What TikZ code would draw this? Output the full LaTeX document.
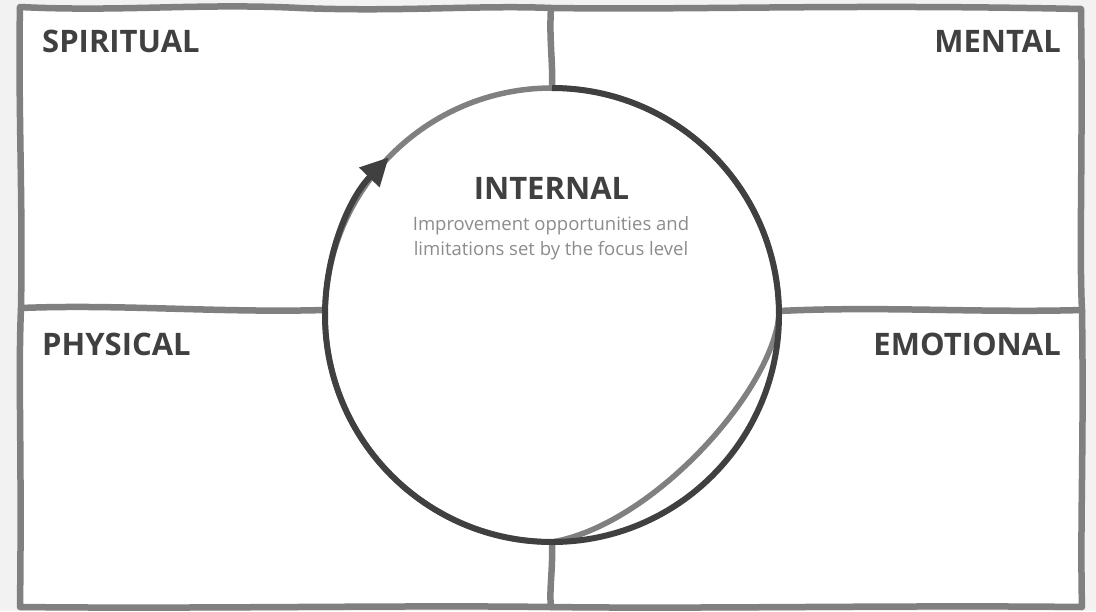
\documentclass[tikz,border=0pt]{standalone}
\usepackage{fontspec}
\setmainfont{Open Sans}
\usetikzlibrary{arrows.meta}
\definecolor{bgc}{HTML}{F2F2F2}
\definecolor{framec}{HTML}{808080}
\definecolor{darkc}{HTML}{404040}
\definecolor{subc}{HTML}{8C8C8C}
\tikzset{
  frameline/.style={draw=framec, line width=6.5pt, line cap=round, line join=round},
  lightarc/.style={draw=framec, line width=5.5pt},
  darkarc/.style={draw=darkc, line width=6pt},
  quadlabel/.style={text=darkc, font=\fontsize{31}{37}\selectfont\bfseries, inner sep=0pt},
  subtext/.style={text=subc, font=\fontsize{18.5}{25}\selectfont, align=center, inner sep=0pt}
}
\begin{document}
\begin{tikzpicture}[x=1pt,y=-1pt]
\fill[bgc] (0,0) rectangle (1096,611);
\useasboundingbox (0,0) rectangle (1096,611);
% outer frame
\path[frameline, fill=white]
  (20,7) .. controls (120,12) and (200,3) .. (300,8)
  .. controls (400,12) and (480,5) .. (551,8)
  .. controls (700,10) and (850,4) .. (1081,9)
  .. controls (1083,150) and (1079,250) .. (1082,310)
  .. controls (1084,450) and (1080,520) .. (1082,607)
  .. controls (900,605) and (700,609) .. (551,607)
  .. controls (400,605) and (200,609) .. (20,607)
  .. controls (22,450) and (18,380) .. (21,308)
  .. controls (23,200) and (18,100) .. (20,7) -- cycle;
\coordinate (c) at (552,315);
\coordinate (ctop) at (552,88);
\coordinate (cbot) at (552,542);
\coordinate (cleft) at (325,310);
\coordinate (cright) at (779,311);
% inner dividers
\draw[frameline] (551,8) .. controls (549,40) and (553,60) .. (ctop);
\draw[frameline] (cbot) .. controls (553,570) and (549,590) .. (551,607);
\draw[frameline] (21,308) .. controls (120,304) and (220,313) .. (cleft);
\draw[frameline] (cright) .. controls (880,306) and (980,313) .. (1082,310);
% light circle
\fill[white] (c) circle[radius=225];
\draw[lightarc] (c) ++(90:227) arc[start angle=90, end angle=360, radius=227]
  .. controls (772,392) and (652,525) .. (cbot);
% dark arc with arrow
\draw[darkarc, -{Triangle[length=28pt,width=27pt]}] (ctop) arc[start angle=-90, end angle=224, radius=227];
% labels
\node[quadlabel, anchor=base west] (spiritual) at (42,52) {SPIRITUAL};
\node[quadlabel, anchor=base east] (mental) at (1061,52) {MENTAL};
\node[quadlabel, anchor=base west] (physical) at (42,355) {PHYSICAL};
\node[quadlabel, anchor=base east] (emotional) at (1061,355) {EMOTIONAL};
\node[quadlabel, anchor=base] (internal) at (551.5,199) {INTERNAL};
\node[subtext, anchor=base] (sub1) at (551,230) {Improvement opportunities and};
\node[subtext, anchor=base] (sub2) at (551,255) {limitations set by the focus level};
\end{tikzpicture}
\end{document}
